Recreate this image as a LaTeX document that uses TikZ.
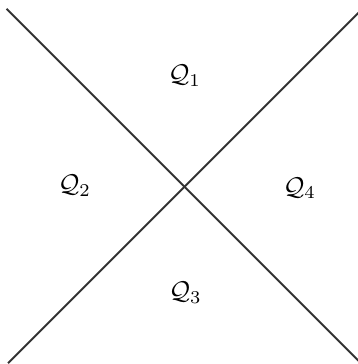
\documentclass[tikz,border=0pt]{standalone}
\usepackage{amsmath}
\usepackage{tikz}
\usetikzlibrary{positioning}

\begin{document}
\begin{tikzpicture}[semithick]

\tikzstyle{axisline}=[
    draw=black!80,
    line width=0.75pt
]
\tikzstyle{region}=[
    inner sep=1pt,
    text=black
]

\useasboundingbox (-2.51,-2.43) rectangle (2.37,2.54);

\coordinate (TL) at (-2.42,2.42);
\coordinate (BR) at (2.40,-2.40);
\coordinate (BL) at (-2.40,-2.42);
\coordinate (TR) at (2.42,2.40);

\node[region] (Q_1) at (0.01,1.51) {$\mathcal{Q}_1$};
\node[region] (Q_2) at (-1.49,0.01) {$\mathcal{Q}_2$};
\node[region] (Q_3) at (0.02,-1.46) {$\mathcal{Q}_3$};
\node[region] (Q_4) at (1.58,-0.03) {$\mathcal{Q}_4$};

\path[axisline]
(TL) edge (BR)
(BL) edge (TR);

\end{tikzpicture}
\end{document}
